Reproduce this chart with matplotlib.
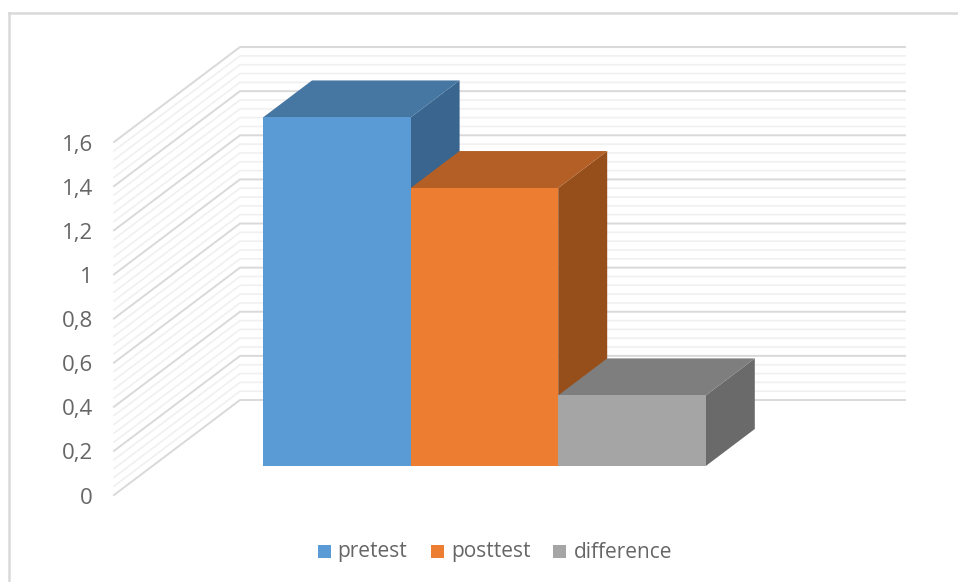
"""Pseudo-3D column chart of pretest, posttest and difference."""

import matplotlib

matplotlib.use("Agg")
import matplotlib.pyplot as plt
from matplotlib.patches import Polygon, Rectangle

categories = ["pretest", "posttest", "difference"]
values = [1.58, 1.26, 0.32]
front_colors = ["#5B9BD5", "#ED7D31", "#A5A5A5"]
top_colors = ["#4676A2", "#B45F25", "#7E7E7E"]
side_colors = ["#39658E", "#964F1B", "#6A6A6A"]
tick_labels = ["0", "0,2", "0,4", "0,6", "0,8", "1", "1,2", "1,4", "1,6"]
tick_values = [0, 0.2, 0.4, 0.6, 0.8, 1.0, 1.2, 1.4, 1.6]
grid_values = [i * 0.04 for i in range(41)]

W, H = 958, 582
# one category and one value unit in pixels, origin at the first bar foot
UX, UY = 147.6, 220.6
X0, Y0 = 263, 466
DX, DY = 49 / UX, 37 / UY  # bar depth


def px(x):
    return (x - X0) / UX


def py(y):
    return (Y0 - y) / UY


plt.rcParams["font.family"] = ["Open Sans", "DejaVu Sans"]
fig = plt.figure(figsize=(W / 100, H / 100), dpi=100)
ax = fig.add_axes([0, 0, 1, 1])
ax.set_xlim(px(0), px(W))
ax.set_ylim(py(H), py(0))
ax.axis("off")

# chart frame, open at the right and the bottom
ax.plot([px(9), px(9)], [py(H), py(12.5)], color="#D9D9D9", lw=1.8)
ax.plot([px(9), px(W)], [py(12.5), py(12.5)], color="#D9D9D9", lw=1.8)

# gridlines on side wall and back wall
for v in grid_values:
    major = abs(v / 0.2 - round(v / 0.2)) < 1e-6
    color = "#D9D9D9" if major else "#F0F0F0"
    lw = 1.4 if major else 1.2
    ax.plot(
        [px(114), px(240), px(905)],
        [py(495) + v, py(400) + v, py(400) + v],
        color=color,
        lw=lw,
        zorder=1 if major else 0.5,
    )

for v, label in zip(tick_values, tick_labels):
    ax.text(
        px(93), py(498) + v, label, ha="right", va="center",
        color="#666666", fontsize=16,
    )

# bars left to right: each top covers the foot of the side before it
for i, v in enumerate(values):
    z = 2 + i
    ax.add_patch(Polygon(
        [(i + 1, 0), (i + 1 + DX, DY), (i + 1 + DX, v + DY), (i + 1, v)],
        facecolor=side_colors[i], edgecolor="none", zorder=z,
    ))
    ax.add_patch(Polygon(
        [(i, v), (i + DX, v + DY), (i + 1 + DX, v + DY), (i + 1, v)],
        facecolor=top_colors[i], edgecolor="none", zorder=z,
    ))
    ax.add_patch(Rectangle((i, 0), 1, v, facecolor=front_colors[i], edgecolor="none", zorder=z))

# legend
for name, color, sx, tx in zip(categories, front_colors, [318, 431, 553], [337, 451, 574]):
    ax.add_patch(Rectangle((px(sx), py(558)), 13 / UX, 13 / UY, facecolor=color, edgecolor="none"))
    ax.text(px(tx), py(552), name, ha="left", va="center", color="#666666", fontsize=15)

fig.savefig("out.png", dpi=100)
